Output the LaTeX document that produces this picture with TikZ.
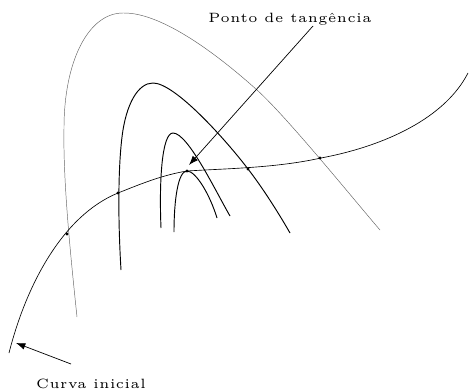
\documentclass[tikz,border=0pt]{standalone}
\usepackage{fontspec}
\usepackage{tikz}
\usetikzlibrary{arrows.meta,positioning}
\newfontfamily\labelfont{lmroman5-regular.otf}[LetterSpace=4]

\begin{document}
\begin{tikzpicture}[
  x=0.03cm, y=-0.03cm,
  curve/.style={line width=0.55pt},
  inner/.style={line width=0.8pt},
  outer/.style={line width=0.4pt, black!60},
  arr/.style={-{Latex[length=2.8mm, width=2mm]}, line width=0.6pt},
  label/.style={font=\labelfont\fontsize{11.5}{13}\selectfont, inner sep=0pt},
  dot/.style={circle, fill, inner sep=0pt, minimum size=2.8pt},
]
  \useasboundingbox (0,0) rectangle (469,391);

  % Family of curves
  \draw[outer] (77,317) .. controls (70,250) and (63,180) .. (64,128)
    .. controls (64,62) and (88,13) .. (123,13)
    .. controls (165,12) and (227,63) .. (257,90)
    .. controls (287,117) and (355,201) .. (380,230);
  \draw[inner] (121,270) .. controls (118,220) and (118,170) .. (122,137)
    .. controls (126,104) and (138,83) .. (153,83)
    .. controls (175,83) and (226,140) .. (248,169)
    .. controls (262,187) and (278,212) .. (290,233);
  \draw[inner] (161,228) .. controls (159,180) and (162,133) .. (173,133)
    .. controls (188,133) and (216,192) .. (230,216);
  \draw[inner] (174,232) .. controls (174,200) and (178,171) .. (187,171)
    .. controls (196,171) and (210,195) .. (217,218);

  % Initial curve
  \draw[curve] (9,353) .. controls (26,286) and (62,216) .. (118,193)
    .. controls (143,183) and (163,175) .. (187,171)
    .. controls (227,168.5) and (276,168) .. (321,158)
    .. controls (385,146) and (445,118) .. (468,73);

  % Tangency points
  \node[dot] (p1) at (67,234) {};
  \node[dot] (p2) at (118,193) {};
  \node[dot] (p3) at (187,171) {};
  \node[dot] (p4) at (248,169) {};
  \node[dot] (p5) at (320,158) {};

  % Labels
  \node[label] (tang) at (290,19) {Ponto de tangência};
  \node[label] (init) at (91,384) {Curva inicial};
  \coordinate (tangtip) at (189,165);
  \coordinate (inittip) at (16,343);
  \coordinate (tangtail) at (313,26);
  \coordinate (inittail) at (71,364);

  \draw[arr] (tangtail) -- (tangtip);
  \draw[arr] (inittail) -- (inittip);
\end{tikzpicture}
\end{document}
